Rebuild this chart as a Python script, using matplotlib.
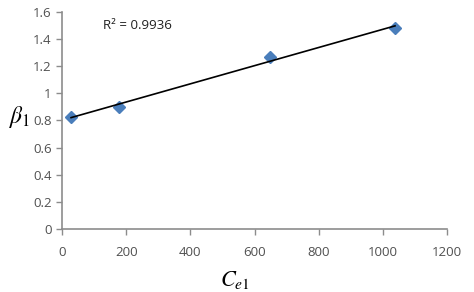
import numpy as np
import matplotlib
matplotlib.use("Agg")
import matplotlib.pyplot as plt

plt.rcParams['font.family'] = ['Open Sans', 'DejaVu Sans']
plt.rcParams['mathtext.fontset'] = 'stix'

ce1 = [28, 178, 648, 1038]
beta1 = [0.826, 0.90, 1.27, 1.48]
xticks = [0, 200, 400, 600, 800, 1000, 1200]
yticks = [0, 0.2, 0.4, 0.6, 0.8, 1, 1.2, 1.4, 1.6]
ytick_labels = ['0', '0.2', '0.4', '0.6', '0.8', '1', '1.2', '1.4', '1.6']
r2_text = "R² = 0.9936"

fig = plt.figure(figsize=(4.74, 2.92), dpi=100)
ax = fig.add_axes([0.131, 0.216, 0.812, 0.743])

slope, intercept = np.polyfit(ce1, beta1, 1)
xs = np.array([min(ce1), max(ce1)])
ax.plot(ce1, beta1, linestyle='none', marker='D', markersize=6.5,
        color='#4a7ebb', markeredgecolor='#4a7ebb', zorder=2)
ax.plot(xs, slope * xs + intercept, color='black', linewidth=1.2, zorder=3)

ax.set_xlim(0, 1200)
ax.set_ylim(0, 1.6)
ax.set_xticks(xticks)
ax.set_yticks(yticks)
ax.set_yticklabels(ytick_labels)
for s in ['top', 'right']:
    ax.spines[s].set_visible(False)
for s in ['left', 'bottom']:
    ax.spines[s].set_color('#8c8c8c')
    ax.spines[s].set_linewidth(1.2)
ax.tick_params(axis='both', direction='out', length=4, width=1.0, color='#8c8c8c',
               labelsize=9.5, labelcolor='#505050')
ax.tick_params(axis='x', pad=8)

ax.text(128, 1.50, r2_text, fontsize=9.5, color='#202020', va='center', ha='left')

fig.text(0.042, 0.60, r'$\beta_1$', fontsize=17, ha='center', va='center')
fig.text(0.495, 0.04, r'$C_{e1}$', fontsize=16, ha='center', va='center')

fig.savefig('out.png', dpi=100)
